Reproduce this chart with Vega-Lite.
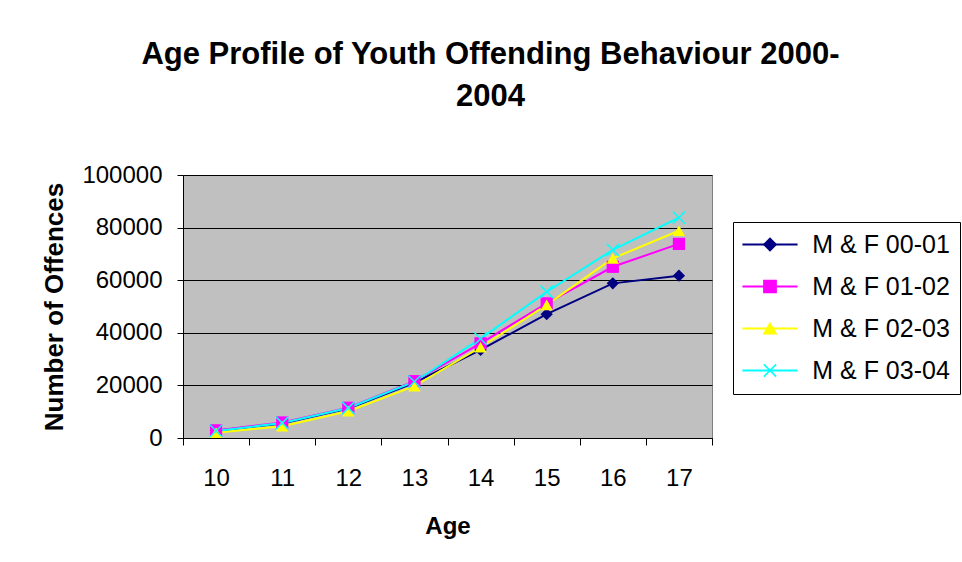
{
  "$schema": "https://vega.github.io/schema/vega-lite/v6.json",
  "autosize": {"type": "none"},
  "padding": {"left": 183, "top": 175, "right": 250, "bottom": 124},
  "width": 529,
  "height": 263,
  "background": "white",
  "title": {
    "text": ["Age Profile of Youth Offending Behaviour 2000-", "2004"],
    "font": "Liberation Sans",
    "fontSize": 31,
    "fontWeight": "bold",
    "color": "black",
    "anchor": "middle",
    "frame": "group",
    "dx": 43,
    "lineHeight": 42,
    "baseline": "alphabetic",
    "offset": 26
  },
  "config": {
    "view": {"fill": "#C0C0C0", "stroke": "#808080", "strokeWidth": 1},
    "font": "Liberation Sans",
    "axis": {"domainColor": "black", "tickColor": "black", "labelColor": "black", "titleColor": "black", "labelFont": "Liberation Sans", "titleFont": "Liberation Sans"}
  },
  "data": {
    "values": [
      {"age": "10", "series": "M & F 00-01", "offences": 2800},
      {"age": "11", "series": "M & F 00-01", "offences": 5500},
      {"age": "12", "series": "M & F 00-01", "offences": 11200},
      {"age": "13", "series": "M & F 00-01", "offences": 21000},
      {"age": "14", "series": "M & F 00-01", "offences": 33500},
      {"age": "15", "series": "M & F 00-01", "offences": 47100},
      {"age": "16", "series": "M & F 00-01", "offences": 58800},
      {"age": "17", "series": "M & F 00-01", "offences": 61700},
      {"age": "10", "series": "M & F 01-02", "offences": 2900},
      {"age": "11", "series": "M & F 01-02", "offences": 5900},
      {"age": "12", "series": "M & F 01-02", "offences": 11500},
      {"age": "13", "series": "M & F 01-02", "offences": 21600},
      {"age": "14", "series": "M & F 01-02", "offences": 36000},
      {"age": "15", "series": "M & F 01-02", "offences": 51200},
      {"age": "16", "series": "M & F 01-02", "offences": 65100},
      {"age": "17", "series": "M & F 01-02", "offences": 73800},
      {"age": "10", "series": "M & F 02-03", "offences": 2000},
      {"age": "11", "series": "M & F 02-03", "offences": 4500},
      {"age": "12", "series": "M & F 02-03", "offences": 10200},
      {"age": "13", "series": "M & F 02-03", "offences": 19700},
      {"age": "14", "series": "M & F 02-03", "offences": 34500},
      {"age": "15", "series": "M & F 02-03", "offences": 50600},
      {"age": "16", "series": "M & F 02-03", "offences": 68300},
      {"age": "17", "series": "M & F 02-03", "offences": 78800},
      {"age": "10", "series": "M & F 03-04", "offences": 2700},
      {"age": "11", "series": "M & F 03-04", "offences": 5700},
      {"age": "12", "series": "M & F 03-04", "offences": 11400},
      {"age": "13", "series": "M & F 03-04", "offences": 21400},
      {"age": "14", "series": "M & F 03-04", "offences": 37800},
      {"age": "15", "series": "M & F 03-04", "offences": 55600},
      {"age": "16", "series": "M & F 03-04", "offences": 71500},
      {"age": "17", "series": "M & F 03-04", "offences": 83800}
    ]
  },
  "encoding": {
    "x": {
      "field": "age", "type": "ordinal",
      "scale": {"paddingInner": 0, "paddingOuter": 0},
      "axis": {
        "title": "Age", "titleFontSize": 24, "titleFontWeight": "bold",
        "titleBaseline": "alphabetic", "titleY": 95, "titleX": 264.5,
        "labelAngle": 0, "labelFontSize": 24, "labelBaseline": "alphabetic", "labelPadding": 40,
        "tickBand": "extent", "tickSize": 7, "grid": false, "domainWidth": 1
      }
    },
    "y": {
      "field": "offences", "type": "quantitative",
      "scale": {"domain": [0, 100000], "nice": false},
      "axis": {
        "title": "Number of Offences", "titleFontSize": 26, "titleFontWeight": "bold",
        "titleAngle": -90, "titleBaseline": "alphabetic", "titleAlign": "center",
        "titleX": -121, "titleY": 131.5,
        "values": [0, 20000, 40000, 60000, 80000, 100000], "format": "d",
        "labelFontSize": 24, "labelPadding": 15, "tickSize": 6,
        "grid": true, "gridColor": "black", "gridWidth": 1, "gridOpacity": 1
      }
    }
  },
  "layer": [
    {
      "mark": {"type": "line", "strokeWidth": 2},
      "encoding": {
        "stroke": {
          "field": "series", "type": "nominal",
          "scale": {"range": ["#000080", "#FF00FF", "#FFFF00", "#00FFFF"]},
          "legend": {
            "title": null, "orient": "none", "legendX": 550, "legendY": 47,
            "fillColor": "white", "strokeColor": "black",
            "padding": 10, "labelFontSize": 25, "labelFont": "Liberation Sans", "labelColor": "black",
            "labelOffset": 29.75, "rowPadding": 16, "symbolType": "M-4.5,0L4.5,0", "symbolSize": 150,
            "symbolOffset": 14.5, "symbolStrokeWidth": 2, "zindex": 0
          }
        }
      }
    },
    {
      "transform": [{"filter": "datum.series != 'M & F 03-04'"}],
      "mark": {"type": "point", "filled": true, "opacity": 1, "size": 150},
      "encoding": {
        "color": {
          "field": "series", "type": "nominal",
          "scale": {"domain": ["M & F 00-01", "M & F 01-02", "M & F 02-03", "M & F 03-04"], "range": ["#000080", "#FF00FF", "#FFFF00", "#00FFFF"]},
          "legend": {
            "title": null, "orient": "none", "legendX": 550, "legendY": 47,
            "padding": 10, "labelFontSize": 25, "labelFont": "Liberation Sans", "labelColor": "transparent",
            "labelOffset": 15, "rowPadding": 16, "symbolSize": 150, "symbolOffset": 14.5,
            "symbolStrokeWidth": 1.5, "symbolOpacity": 1, "zindex": 1
          }
        },
        "shape": {
          "field": "series", "type": "nominal",
          "scale": {"domain": ["M & F 00-01", "M & F 01-02", "M & F 02-03", "M & F 03-04"], "range": ["diamond", "square", "triangle-up", "M-1,-1L1,1M-1,1L1,-1"]},
          "legend": null
        }
      }
    },
    {
      "transform": [{"filter": "datum.series == 'M & F 03-04'"}],
      "mark": {"type": "point", "filled": false, "opacity": 1, "size": 150, "strokeWidth": 1.5},
      "encoding": {
        "color": {
          "field": "series", "type": "nominal",
          "scale": {"domain": ["M & F 00-01", "M & F 01-02", "M & F 02-03", "M & F 03-04"], "range": ["#000080", "#FF00FF", "#FFFF00", "#00FFFF"]},
          "legend": {
            "title": null, "orient": "none", "legendX": 550, "legendY": 47,
            "padding": 10, "labelFontSize": 25, "labelFont": "Liberation Sans", "labelColor": "transparent",
            "labelOffset": 15, "rowPadding": 16, "symbolSize": 150, "symbolOffset": 14.5,
            "symbolStrokeWidth": 1.5, "symbolOpacity": 1, "zindex": 1
          }
        },
        "shape": {
          "field": "series", "type": "nominal",
          "scale": {"domain": ["M & F 00-01", "M & F 01-02", "M & F 02-03", "M & F 03-04"], "range": ["diamond", "square", "triangle-up", "M-1,-1L1,1M-1,1L1,-1"]},
          "legend": null
        }
      }
    }
  ]
}
